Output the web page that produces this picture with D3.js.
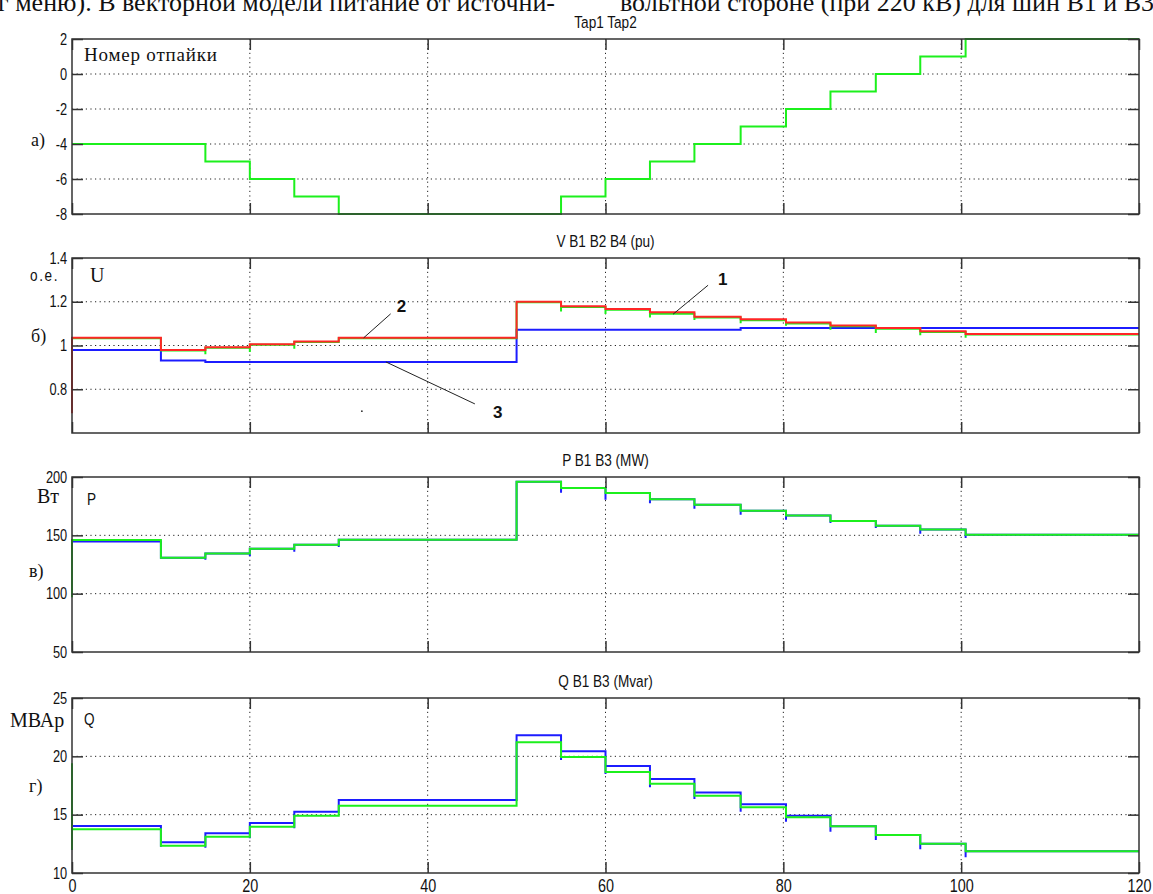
<!DOCTYPE html>
<html>
<head>
<meta charset="utf-8">
<script src="https://cdn.jsdelivr.net/npm/d3@7"></script>
<style>
  html, body { margin: 0; padding: 0; background: #fff; }
  svg { display: block; }
  .narrow { font-family: "Liberation Sans", Arial, sans-serif; fill: #111; }
  .serif { font-family: "Liberation Serif", "Times New Roman", serif; fill: #111; }
  .grid { stroke: #222; stroke-width: 1; stroke-dasharray: 1.2 3.4; }
  .callout { font-family: "Liberation Sans", Arial, sans-serif; font-weight: bold; font-size: 17px; fill: #111; }
</style>
</head>
<body>
<svg id="chart" width="1153" height="894"></svg>
<script>
const X_TICKS = [0, 20, 40, 60, 80, 100, 120];
const TITLES = ["Tap1 Tap2", "V B1 B2 B4 (pu)", "P B1 B3 (MW)", "Q B1 B3 (Mvar)"];

// panel a: tap position
const TAP_RANGE = [-8, 2];
const TAP_TICKS = [-8, -6, -4, -2, 0, 2];
const TAP_T = [0, 15, 20, 25, 30, 55, 60, 65, 70, 75.2, 80.3, 85.3, 90.4, 95.4, 100.5];
const TAP_VALUES = [-4, -5, -6, -7, -8, -7, -6, -5, -4, -3, -2, -1, 0, 1, 2];

// switching instants shared by panels b, c, d
const STEP_T = [0, 10, 15, 20, 25, 30, 50, 55, 60, 65, 70, 75.2, 80.3, 85.3, 90.4, 95.4, 100.5];

// panel b: voltage, pu
const V_RANGE = [0.6, 1.4];
const V_TICKS = [0.8, 1, 1.2, 1.4];
const V_RED_START = [0.69];
const V_RED = [1.035, 0.979, 0.992, 1.006, 1.018, 1.035, 1.2, 1.18, 1.167, 1.152, 1.132, 1.12, 1.105, 1.092, 1.08, 1.065, 1.053];
const V_GREEN = [1.033, 0.977, 0.99, 1.004, 1.016, 1.033, 1.198, 1.176, 1.163, 1.145, 1.128, 1.116, 1.101, 1.088, 1.077, 1.062, 1.05];
const V_GREEN_DIP = [null, null, 0.96, 0.97, 0.985, 1.02, null, 1.155, 1.144, 1.128, 1.117, 1.102, 1.09, 1.072, 1.057, 1.047, 1.035];
const V_BLUE = [0.979, 0.932, 0.925, 0.925, 0.925, 0.925, 1.072, 1.072, 1.072, 1.072, 1.072, 1.08, 1.08, 1.08, 1.08, 1.08, 1.08];

// panel c: active power, MW
const P_RANGE = [50, 200];
const P_TICKS = [50, 100, 150, 200];
const P_GREEN_START = [97];
const P_GREEN = [146, 130.7, 134.4, 138.4, 142, 146.3, 196, 190.6, 186.2, 181, 176.2, 171, 167, 162.3, 158.3, 154.9, 150.6];
const P_BLUE = [144.8, 130.7, 134.4, 138.4, 142, 146.3, 196, 190.6, 186.2, 181, 176.2, 171, 167, 162.3, 158.3, 154.9, 150.6];
const P_BLUE_DIP = [null, null, 129, 132, 136, 140, null, 186.5, 180.5, 177.6, 172.8, 167.6, 163.4, 160.6, 156.3, 151.4, 147.8];

// panel d: reactive power, Mvar
const Q_RANGE = [10, 25];
const Q_TICKS = [10, 15, 20, 25];
const Q_GREEN_START = [19.4, 12.0];
const Q_GREEN = [13.74, 12.34, 13.1, 13.97, 14.91, 15.77, 21.2, 19.94, 18.65, 17.65, 16.62, 15.63, 14.77, 14.0, 13.26, 12.51, 11.86];
const Q_BLUE_START = [12.0];
const Q_BLUE = [14.03, 12.63, 13.4, 14.28, 15.25, 16.26, 21.8, 20.43, 19.17, 18.06, 16.91, 15.89, 14.91, 14.0, 13.26, 12.51, 11.86];
const Q_BLUE_DIP = [null, 12.25, 12.17, 12.97, 13.83, null, null, 19.68, 18.48, 17.34, 16.34, 15.25, 14.4, 13.54, 12.83, 12.03, 11.35];

(function () {
  const PLOT_LEFT = 72;
  const PLOT_RIGHT = 1139;
  const PANEL_TOPS = [39, 258, 477, 698];
  const PANEL_H = 175;
  const TICK_LEN = 11;
  const NARROW = 0.8; // horizontal squeeze for the scope's condensed font
  const AXIS_COLOR = "#333";
  const GREEN = "#1cf01c";
  const RED = "#ff2626";
  const BLUE = "#1c1cff";

  const svg = d3.select("#chart");
  svg.append("rect").attr("width", 1153).attr("height", 894).attr("fill", "#fff");

  const x = d3
    .scaleLinear()
    .domain([X_TICKS[0], X_TICKS[X_TICKS.length - 1]])
    .range([PLOT_LEFT, PLOT_RIGHT]);

  // step series: optional leading values at t0, optional overshoot at each switch
  function stepPoints(times, values, dips, lead) {
    const pts = (lead || []).map((v) => [times[0], v]);
    times.forEach((t, i) => {
      if (dips && dips[i] != null) pts.push([t, dips[i]]);
      pts.push([t, values[i]]);
    });
    pts.push([x.domain()[1], values[values.length - 1]]);
    return pts;
  }

  function narrowText(parent, t, px, py, size, anchor) {
    return parent
      .append("text")
      .attr("class", "narrow")
      .attr("transform", `translate(${px},${py}) scale(${NARROW},1)`)
      .attr("text-anchor", anchor || "start")
      .style("font-size", size + "px")
      .text(t);
  }

  const panels = [
    {
      domain: TAP_RANGE,
      ticks: TAP_TICKS,
      series: [{ color: GREEN, pts: stepPoints(TAP_T, TAP_VALUES) }],
    },
    {
      domain: V_RANGE,
      ticks: V_TICKS,
      series: [
        { color: BLUE, pts: stepPoints(STEP_T, V_BLUE) },
        { color: GREEN, pts: stepPoints(STEP_T, V_GREEN, V_GREEN_DIP) },
        { color: RED, pts: stepPoints(STEP_T, V_RED, null, V_RED_START) },
      ],
    },
    {
      domain: P_RANGE,
      ticks: P_TICKS,
      series: [
        { color: BLUE, pts: stepPoints(STEP_T, P_BLUE, P_BLUE_DIP) },
        { color: GREEN, pts: stepPoints(STEP_T, P_GREEN, null, P_GREEN_START) },
      ],
    },
    {
      domain: Q_RANGE,
      ticks: Q_TICKS,
      series: [
        { color: BLUE, pts: stepPoints(STEP_T, Q_BLUE, Q_BLUE_DIP, Q_BLUE_START) },
        { color: GREEN, pts: stepPoints(STEP_T, Q_GREEN, null, Q_GREEN_START) },
      ],
    },
  ];

  const yScales = [];

  function styleAxis(sel, fontSize) {
    sel.select(".domain").remove();
    sel.attr("font-family", null).attr("font-size", null);
    sel.selectAll(".tick line").attr("stroke", AXIS_COLOR).attr("stroke-width", 1.5);
    sel
      .selectAll(".tick text")
      .attr("class", "narrow")
      .attr("fill", "#111")
      .attr("transform", `scale(${NARROW},1)`)
      .style("font-size", fontSize + "px");
  }

  panels.forEach((p, i) => {
    const top = PANEL_TOPS[i];
    const bottom = top + PANEL_H;
    const y = d3.scaleLinear().domain(p.domain).range([bottom, top]);
    yScales.push(y);
    const g = svg.append("g");

    narrowText(g, TITLES[i], (PLOT_LEFT + PLOT_RIGHT) / 2, top - 11, 17, "middle");

    g.append("g")
      .selectAll("line")
      .data(X_TICKS.slice(1, -1))
      .join("line")
      .attr("class", "grid")
      .attr("x1", x)
      .attr("x2", x)
      .attr("y1", top)
      .attr("y2", bottom);

    g.append("g")
      .selectAll("line")
      .data(p.ticks.filter((v) => v > p.domain[0] && v < p.domain[1]))
      .join("line")
      .attr("class", "grid")
      .attr("x1", PLOT_LEFT)
      .attr("x2", PLOT_RIGHT)
      .attr("y1", y)
      .attr("y2", y);

    const line = d3
      .line()
      .x((d) => x(d[0]))
      .y((d) => y(d[1]))
      .curve(d3.curveStepAfter);

    p.series.forEach((s) => {
      g.append("path")
        .attr("d", line(s.pts))
        .attr("fill", "none")
        .attr("stroke", s.color)
        .attr("stroke-width", 2);
    });

    const fmt = (d) => String(d);
    g.append("g")
      .attr("transform", `translate(${PLOT_LEFT},0)`)
      .call(d3.axisLeft(y).tickValues(p.ticks).tickSizeInner(-TICK_LEN).tickSizeOuter(0).tickPadding(6).tickFormat(fmt))
      .call((a) => styleAxis(a, 16));
    g.append("g")
      .attr("transform", `translate(${PLOT_RIGHT},0)`)
      .call(d3.axisRight(y).tickValues(p.ticks).tickSizeInner(-TICK_LEN).tickSizeOuter(0).tickFormat(""))
      .call((a) => styleAxis(a, 16));
    g.append("g")
      .attr("transform", `translate(0,${top})`)
      .call(d3.axisTop(x).tickValues(X_TICKS).tickSizeInner(-TICK_LEN).tickSizeOuter(0).tickFormat(""))
      .call((a) => styleAxis(a, 16));
    g.append("g")
      .attr("transform", `translate(0,${bottom})`)
      .call(
        d3
          .axisBottom(x)
          .tickValues(X_TICKS)
          .tickSizeInner(-TICK_LEN)
          .tickSizeOuter(0)
          .tickPadding(6)
          .tickFormat(i === panels.length - 1 ? fmt : "")
      )
      .call((a) => styleAxis(a, 18));

    g.append("rect")
      .attr("x", PLOT_LEFT)
      .attr("y", top)
      .attr("width", PLOT_RIGHT - PLOT_LEFT)
      .attr("height", PANEL_H)
      .attr("fill", "none")
      .attr("stroke", AXIS_COLOR)
      .attr("stroke-width", 1.5);
  });

  // page text cut off above the figure
  svg.append("text").attr("class", "serif").attr("x", -2).attr("y", 11).style("font-size", "26px")
    .text("г меню). В векторной модели питание от источни-");
  svg.append("text").attr("class", "serif").attr("x", 620).attr("y", 11).style("font-size", "26px")
    .text("вольтной стороне (при 220 кВ) для шин В1 и В3");

  // hand-written labels beside the panels
  const serif = (t, px, py, size) =>
    svg.append("text").attr("class", "serif").attr("x", px).attr("y", py).style("font-size", size + "px").text(t);

  serif("Номер отпайки", 84, 61, 19).style("letter-spacing", "0.8px");
  serif("а)", 31, 146, 18);
  narrowText(svg, "о.е.", 30, 281, 17).style("letter-spacing", "2px");
  serif("U", 90, 282, 20);
  serif("б)", 31, 342, 18);
  serif("Вт", 37, 503, 20);
  narrowText(svg, "P", 87, 505, 17);
  serif("в)", 29, 577, 18);
  serif("МВАр", 10, 727, 20);
  narrowText(svg, "Q", 84, 725, 17);
  serif("г)", 29, 792, 18);

  // numbered callouts in panel b
  const yV = yScales[1];
  const callouts = [
    { label: "1", at: [67.6, 1.143], end: [35, -29], text: [45, -29] },
    { label: "2", at: [32.8, 1.035], end: [27, -24], text: [33, -26] },
    { label: "3", at: [35.3, 0.925], end: [89, 42], text: [107, 56] },
  ];
  callouts.forEach((c) => {
    const ax = x(c.at[0]);
    const ay = yV(c.at[1]);
    svg.append("line")
      .attr("x1", ax).attr("y1", ay)
      .attr("x2", ax + c.end[0]).attr("y2", ay + c.end[1])
      .attr("stroke", "#222").attr("stroke-width", 1);
    svg.append("text").attr("class", "callout")
      .attr("x", ax + c.text[0]).attr("y", ay + c.text[1])
      .text(c.label);
  });
  svg.append("circle").attr("cx", x(32.6)).attr("cy", yV(0.7)).attr("r", 0.9).attr("fill", "#333");
})();
</script>
</body>
</html>
